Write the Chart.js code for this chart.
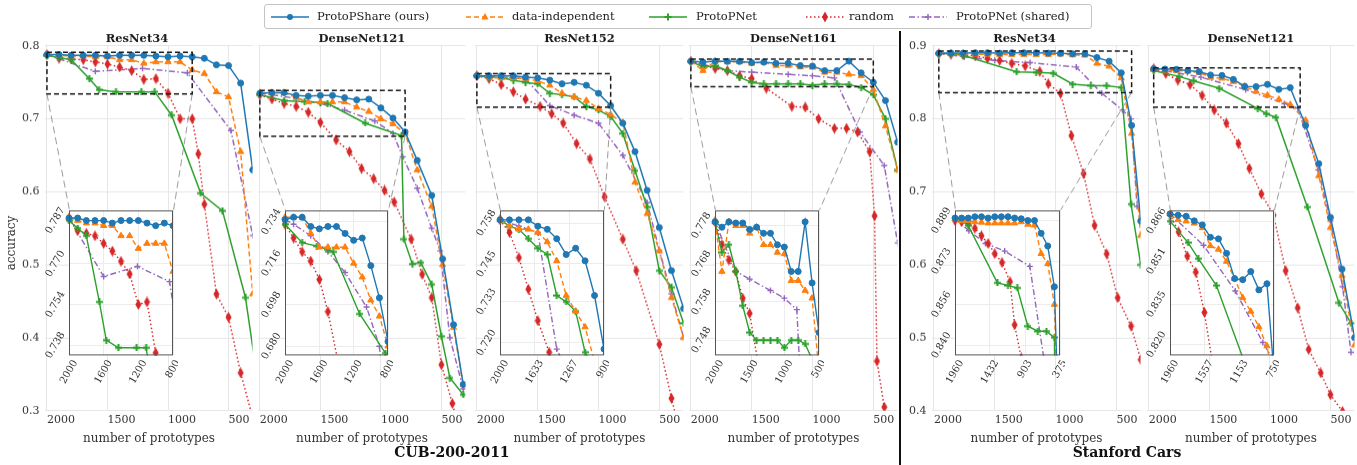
<!DOCTYPE html>
<html>
<head>
<meta charset="utf-8">
<script src="https://cdn.jsdelivr.net/npm/chart.js@4.4.0/dist/chart.umd.min.js"></script>
<style>
  body { margin: 0; background: #fff; }
  #fig { position: relative; width: 1357px; height: 465px; overflow: hidden; background: #fff; font-family: 'DejaVu Serif', serif; }
  #fig canvas { position: absolute; }
  #legend { position: absolute; left: 264px; top: 4px; width: 826px; height: 23px; border: 1px solid #c4c4c4; border-radius: 3px; z-index: 20; background: #fff; }
  #legend svg { position: absolute; top: 6px; }
  #legend span { position: absolute; top: 3px; font-size: 11.5px; color: #222; line-height: 17px; white-space: nowrap; }
  .sep { position: absolute; left: 899px; top: 31px; width: 2px; height: 434px; background: #111; z-index: 20; }
  .grp { position: absolute; top: 443px; width: 300px; text-align: center; font-weight: bold; font-size: 14px; line-height: 18px; color: #111; z-index: 20; }
  .ytitle { position: absolute; left: -39px; top: 235px; width: 100px; text-align: center; font-size: 12px; line-height: 16px; color: #333; transform: rotate(-90deg); z-index: 20; }
</style>
</head>
<body>
<div id="fig">
  <div id="legend">
    <svg style="left:6px" width="38" height="12"><line x1="0" y1="6" x2="38" y2="6" stroke="#1f77b4" stroke-width="1.6"/><circle cx="19" cy="6" r="3" fill="#1f77b4"/></svg>
    <span style="left:52px">ProtoPShare (ours)</span>
    <svg style="left:201px" width="38" height="12"><line x1="0" y1="6" x2="38" y2="6" stroke="#ff7f0e" stroke-width="1.6" stroke-dasharray="5,3"/><polygon points="19,2 22.6,8.6 15.4,8.6" fill="#ff7f0e"/></svg>
    <span style="left:247px">data-independent</span>
    <svg style="left:384px" width="38" height="12"><line x1="0" y1="6" x2="38" y2="6" stroke="#2ca02c" stroke-width="1.6"/><rect x="18" y="2.5" width="2" height="7" fill="#2ca02c"/><rect x="15.5" y="5" width="7" height="2" fill="#2ca02c"/></svg>
    <span style="left:431px">ProtoPNet</span>
    <svg style="left:541px" width="38" height="12"><line x1="0" y1="6" x2="38" y2="6" stroke="#d62728" stroke-width="1.6" stroke-dasharray="1.5,2.5"/><polygon points="19,0.5 22,6 19,11.5 16,6" fill="#d62728"/></svg>
    <span style="left:584px">random</span>
    <svg style="left:644px" width="38" height="12"><line x1="0" y1="6" x2="38" y2="6" stroke="#9467bd" stroke-width="1.4" stroke-dasharray="6,2.5,1.5,2.5"/><line x1="16" y1="6" x2="22" y2="6" stroke="#9467bd" stroke-width="1.5"/><line x1="19" y1="3" x2="19" y2="9" stroke="#9467bd" stroke-width="1.5"/></svg>
    <span style="left:691px">ProtoPNet (shared)</span>
  </div>
  <div class="ytitle">accuracy</div>
  <div class="sep"></div>
  <div class="grp" style="left:302px">CUB-200-2011</div>
  <div class="grp" style="left:977px">Stanford Cars</div>
</div>
<script>
// tick values
const mainXTicks = [500, 1000, 1500, 2000];
const cubYTicks = [0.3, 0.4, 0.5, 0.6, 0.7, 0.8];
const carsYTicks = [0.4, 0.5, 0.6, 0.7, 0.8, 0.9];

// CUB-200-2011 / ResNet34
const cubR34_x = [2000,1900,1800,1700,1600,1500,1400,1300,1200,1100,1000,900,800,700,600,500,400,300];
const cubR34_share = [0.788,0.788,0.787,0.787,0.787,0.786,0.787,0.787,0.787,0.786,0.785,0.786,0.785,0.783,0.774,0.773,0.749,0.63];
const cubR34_dind = [0.788,0.787,0.786,0.786,0.785,0.785,0.781,0.781,0.776,0.778,0.778,0.778,0.767,0.762,0.737,0.730,0.655,0.46];
const cubR34_pnet_x = [2000,1900,1800,1650,1570,1430,1220,1110,970,730,550,360,250];
const cubR34_pnet = [0.787,0.784,0.781,0.755,0.740,0.737,0.737,0.737,0.705,0.598,0.574,0.455,0.33];
const cubR34_rand_x = [2000,1900,1800,1700,1600,1500,1400,1300,1200,1100,1000,900,800,750,700,600,500,400,300];
const cubR34_rand = [0.788,0.783,0.782,0.781,0.778,0.775,0.771,0.766,0.754,0.755,0.735,0.700,0.700,0.652,0.583,0.460,0.428,0.352,0.29];
const cubR34_shrd_x = [2000,1600,1210,840,480,300];
const cubR34_shrd = [0.788,0.765,0.769,0.763,0.684,0.54];
const cubR34_inX = [800, 1200, 1600, 2000];
const cubR34_inY = [0.738, 0.754, 0.770, 0.787];

// CUB-200-2011 / DenseNet121
const cubD121_x = [2000,1900,1800,1700,1600,1500,1400,1300,1200,1100,1000,900,800,700,580,490,400,320];
const cubD121_share = [0.735,0.736,0.736,0.732,0.731,0.732,0.732,0.729,0.726,0.727,0.715,0.701,0.682,0.643,0.595,0.508,0.418,0.336];
const cubD121_dind = [0.736,0.736,0.736,0.729,0.723,0.723,0.723,0.723,0.716,0.710,0.700,0.693,0.680,0.630,0.580,0.500,0.414,0.336];
const cubD121_pnet_x = [2000,1800,1630,1500,1440,1130,830,810,740,670,580,500,430,320];
const cubD121_pnet = [0.733,0.725,0.7235,0.722,0.721,0.694,0.677,0.535,0.501,0.503,0.473,0.402,0.345,0.322];
const cubD121_rand_x = [2000,1900,1800,1700,1600,1500,1370,1260,1160,1060,970,890,750,660,580,500,410,330];
const cubD121_rand = [0.733,0.727,0.721,0.717,0.709,0.695,0.671,0.655,0.632,0.618,0.602,0.586,0.535,0.487,0.455,0.363,0.310,0.26];
const cubD121_shrd_x = [2000,1900,1700,1500,1300,1050,900,820,700,580,510,430,320];
const cubD121_shrd = [0.735,0.733,0.728,0.721,0.712,0.697,0.68,0.648,0.605,0.55,0.519,0.40,0.33];
const cubD121_inX = [800, 1200, 1600, 2000];
const cubD121_inY = [0.680, 0.698, 0.716, 0.734];

// CUB-200-2011 / ResNet152
const cubR152_x = [2000,1900,1800,1700,1600,1500,1400,1300,1200,1100,1000,900,800,700,600,500,400,300];
const cubR152_share = [0.759,0.759,0.759,0.759,0.757,0.756,0.753,0.748,0.750,0.746,0.735,0.718,0.694,0.655,0.602,0.551,0.492,0.44];
const cubR152_dind = [0.759,0.757,0.756,0.756,0.755,0.752,0.746,0.735,0.730,0.725,0.714,0.706,0.695,0.613,0.570,0.519,0.455,0.40];
const cubR152_pnet = [0.759,0.757,0.756,0.753,0.750,0.748,0.735,0.733,0.730,0.717,0.712,0.703,0.680,0.629,0.579,0.492,0.469,0.42];
const cubR152_rand_x = [2000,1900,1800,1700,1600,1480,1385,1290,1180,1070,950,800,690,500,400,330];
const cubR152_rand = [0.759,0.755,0.747,0.737,0.727,0.717,0.707,0.694,0.666,0.645,0.593,0.535,0.492,0.391,0.317,0.27];
const cubR152_shrd_x = [2000,1800,1600,1400,1200,1000,800,600,500,400,300];
const cubR152_shrd = [0.759,0.757,0.755,0.718,0.705,0.694,0.65,0.585,0.52,0.46,0.40];
const cubR152_inX = [900, 1267, 1633, 2000];
const cubR152_inY = [0.720, 0.733, 0.745, 0.758];

// CUB-200-2011 / DenseNet161
const cubD161_x = [2000,1900,1800,1700,1600,1500,1400,1300,1200,1100,1000,900,800,700,600,500,400,300];
const cubD161_share = [0.779,0.7776,0.779,0.7787,0.7787,0.777,0.7776,0.776,0.776,0.773,0.7724,0.766,0.766,0.779,0.763,0.750,0.725,0.668];
const cubD161_dind = [0.779,0.766,0.779,0.778,0.778,0.776,0.7776,0.773,0.773,0.771,0.7706,0.7636,0.7636,0.761,0.759,0.740,0.69,0.63];
const cubD161_pnet = [0.779,0.771,0.773,0.766,0.757,0.750,0.748,0.748,0.748,0.748,0.746,0.748,0.748,0.747,0.743,0.733,0.700,0.63];
const cubD161_rand_x = [2000,1900,1800,1700,1600,1500,1380,1170,1060,950,820,720,630,530,490,470,410,380];
const cubD161_rand = [0.779,0.773,0.769,0.766,0.759,0.755,0.742,0.717,0.716,0.700,0.687,0.687,0.682,0.655,0.567,0.368,0.305,0.27];
const cubD161_shrd_x = [2000,1700,1500,1200,1000,820,610,410,300];
const cubD161_shrd = [0.779,0.766,0.764,0.761,0.759,0.756,0.682,0.636,0.53];
const cubD161_inX = [500, 1000, 1500, 2000];
const cubD161_inY = [0.748, 0.758, 0.768, 0.778];

// Stanford Cars / ResNet34
const carsR34_x = [1960,1860,1760,1660,1560,1460,1360,1260,1160,1060,960,860,760,660,560,460,375,300];
const carsR34_share = [0.890,0.890,0.890,0.8905,0.8905,0.890,0.8905,0.8905,0.8905,0.890,0.8897,0.889,0.889,0.884,0.879,0.863,0.791,0.66];
const carsR34_dind = [0.8897,0.889,0.889,0.8885,0.8883,0.888,0.888,0.888,0.888,0.888,0.8885,0.8875,0.8872,0.876,0.872,0.856,0.78,0.64];
const carsR34_pnet_x = [1960,1860,1760,1320,1160,1020,860,710,580,460,380,300];
const carsR34_pnet = [0.8897,0.889,0.887,0.8645,0.8635,0.8625,0.8475,0.8455,0.8455,0.843,0.683,0.60];
const carsR34_rand_x = [1960,1860,1760,1660,1560,1460,1360,1250,1130,1060,960,870,770,680,580,490,380,300];
const carsR34_rand = [0.889,0.8885,0.888,0.886,0.883,0.880,0.876,0.8725,0.865,0.848,0.835,0.777,0.725,0.654,0.615,0.555,0.516,0.47];
const carsR34_shrd_x = [1960,1750,1500,1210,830,620,450,380,330];
const carsR34_shrd = [0.8897,0.885,0.880,0.877,0.871,0.835,0.812,0.80,0.68];
const carsR34_inX = [375, 903, 1432, 1960];
const carsR34_inY = [0.840, 0.856, 0.873, 0.889];

// Stanford Cars / DenseNet121
const carsD121_x = [1960,1866,1772,1678,1584,1490,1396,1302,1208,1114,1020,926,832,705,596,500,404,300];
const carsD121_share = [0.8687,0.8682,0.8678,0.8661,0.8646,0.860,0.8594,0.854,0.8446,0.8442,0.8472,0.8404,0.8427,0.791,0.7385,0.665,0.594,0.50];
const carsD121_dind = [0.8687,0.8665,0.866,0.8652,0.8635,0.8568,0.8555,0.851,0.8446,0.8375,0.8324,0.8266,0.8195,0.798,0.722,0.651,0.585,0.49];
const carsD121_pnet_x = [1960,1750,1630,1420,1100,1030,950,690,430,330];
const carsD121_pnet = [0.866,0.858,0.852,0.842,0.814,0.807,0.802,0.679,0.548,0.52];
const carsD121_rand_x = [1960,1860,1760,1660,1560,1460,1360,1260,1170,1070,970,870,770,680,580,500,400];
const carsD121_rand = [0.8687,0.862,0.853,0.847,0.832,0.812,0.794,0.766,0.732,0.697,0.668,0.592,0.541,0.484,0.452,0.422,0.399];
const carsD121_shrd_x = [1960,1570,1200,880,770,600,500,400,330];
const carsD121_shrd = [0.8687,0.857,0.840,0.8208,0.815,0.73,0.66,0.57,0.48];
const carsD121_inX = [750, 1153, 1557, 1960];
const carsD121_inY = [0.820, 0.835, 0.851, 0.866];

// ---- look ----
const FONT = "'DejaVu Serif', serif";
const TXT = '#333';
const GRID = '#e6e6e6';
const COLORS = ['#1f77b4', '#ff7f0e', '#2ca02c', '#d62728', '#9467bd'];
const DASHES = [[], [5, 3], [], [1.5, 2.5], [6, 2.5, 1.5, 2.5]];

function mk(w, h, draw) {
  const c = document.createElement('canvas');
  c.width = w; c.height = h;
  draw(c.getContext('2d'));
  return c;
}
const plusMark = mk(7, 7, g => { g.fillStyle = COLORS[2]; g.fillRect(2.5, 0, 2, 7); g.fillRect(0, 2.5, 7, 2); });
const diaMark = mk(7, 11, g => {
  g.fillStyle = COLORS[3];
  g.beginPath(); g.moveTo(3.5, 0); g.lineTo(6.5, 5.5); g.lineTo(3.5, 11); g.lineTo(0.5, 5.5); g.closePath(); g.fill();
});
const STYLES = ['circle', 'triangle', plusMark, diaMark, 'cross'];
const RADII = [3, 3.6, 3, 3, 3];

const panels = [
  { title: 'ResNet34', box: [45, 46, 252, 410], yRange: [0.3, 0.8], yTicks: cubYTicks, yLabels: true,
    series: [[cubR34_x, cubR34_share], [cubR34_x, cubR34_dind], [cubR34_pnet_x, cubR34_pnet], [cubR34_rand_x, cubR34_rand], [cubR34_shrd_x, cubR34_shrd]],
    inset: { box: [69, 210, 173, 355], x: [800, 2000], y: [0.734, 0.791], xTicks: cubR34_inX, yTicks: cubR34_inY } },
  { title: 'DenseNet121', box: [258, 46, 465, 410], yRange: [0.3, 0.8], yTicks: cubYTicks, yLabels: false,
    series: [[cubD121_x, cubD121_share], [cubD121_x, cubD121_dind], [cubD121_pnet_x, cubD121_pnet], [cubD121_rand_x, cubD121_rand], [cubD121_shrd_x, cubD121_shrd]],
    inset: { box: [285, 210, 388, 355], x: [800, 2000], y: [0.676, 0.739], xTicks: cubD121_inX, yTicks: cubD121_inY } },
  { title: 'ResNet152', box: [475, 46, 683, 410], yRange: [0.3, 0.8], yTicks: cubYTicks, yLabels: false,
    series: [[cubR152_x, cubR152_share], [cubR152_x, cubR152_dind], [cubR152_x, cubR152_pnet], [cubR152_rand_x, cubR152_rand], [cubR152_shrd_x, cubR152_shrd]],
    inset: { box: [500, 210, 604, 355], x: [900, 2000], y: [0.716, 0.762], xTicks: cubR152_inX, yTicks: cubR152_inY } },
  { title: 'DenseNet161', box: [689, 46, 897, 410], yRange: [0.3, 0.8], yTicks: cubYTicks, yLabels: false,
    series: [[cubD161_x, cubD161_share], [cubD161_x, cubD161_dind], [cubD161_x, cubD161_pnet], [cubD161_rand_x, cubD161_rand], [cubD161_shrd_x, cubD161_shrd]],
    inset: { box: [715, 210, 819, 355], x: [500, 2000], y: [0.744, 0.782], xTicks: cubD161_inX, yTicks: cubD161_inY } },
  { title: 'ResNet34', box: [932, 46, 1140, 410], yRange: [0.4, 0.9], yTicks: carsYTicks, yLabels: true,
    series: [[carsR34_x, carsR34_share], [carsR34_x, carsR34_dind], [carsR34_pnet_x, carsR34_pnet], [carsR34_rand_x, carsR34_rand], [carsR34_shrd_x, carsR34_shrd]],
    inset: { box: [955, 210, 1060, 355], x: [375, 1960], y: [0.836, 0.893], xTicks: carsR34_inX, yTicks: carsR34_inY } },
  { title: 'DenseNet121', box: [1147, 46, 1354, 410], yRange: [0.4, 0.9], yTicks: carsYTicks, yLabels: false,
    series: [[carsD121_x, carsD121_share], [carsD121_x, carsD121_dind], [carsD121_pnet_x, carsD121_pnet], [carsD121_rand_x, carsD121_rand], [carsD121_shrd_x, carsD121_shrd]],
    inset: { box: [1170, 210, 1274, 355], x: [750, 1960], y: [0.816, 0.870], xTicks: carsD121_inX, yTicks: carsD121_inY } }
];

function makeDatasets(p, inset) {
  return p.series.map((s, i) => ({
    data: s[0].map((x, j) => ({ x: x, y: s[1][j] })),
    borderColor: COLORS[i],
    backgroundColor: COLORS[i],
    borderWidth: inset ? 1.4 : 1.5,
    borderDash: DASHES[i],
    pointStyle: STYLES[i],
    pointRadius: RADII[i],
    pointBorderWidth: i === 4 ? 1.4 : 1,
    pointBackgroundColor: COLORS[i],
    pointBorderColor: COLORS[i],
    tension: 0,
    fill: false,
    clip: inset ? { left: 4, top: 0, right: 0, bottom: 0 } : { left: 5, top: 5, right: 0, bottom: 0 }
  }));
}

function addCanvas(w, h, z) {
  const c = document.createElement('canvas');
  c.width = w; c.height = h;
  c.style.zIndex = z;
  document.getElementById('fig').appendChild(c);
  return c;
}

// move/resize the canvas so the chart area lands on box = [left, top, right, bottom]
function place(chart, box) {
  let a = chart.chartArea;
  const w = chart.width + (box[2] - box[0]) - (a.right - a.left);
  const h = chart.height + (box[3] - box[1]) - (a.bottom - a.top);
  chart.resize(w, h);
  a = chart.chartArea;
  chart.canvas.style.left = (box[0] - a.left) + 'px';
  chart.canvas.style.top = (box[1] - a.top) + 'px';
}

// dashed zoom box + connector lines to the inset
function zoomMark(p) {
  return {
    id: 'zoomMark',
    afterDatasetsDraw(chart) {
      const ctx = chart.ctx, a = chart.chartArea, xs = chart.scales.x, ys = chart.scales.y;
      const ins = p.inset;
      const x0 = xs.getPixelForValue(ins.x[1]), x1 = xs.getPixelForValue(ins.x[0]);
      const y0 = ys.getPixelForValue(ins.y[1]), y1 = ys.getPixelForValue(ins.y[0]);
      const dx = p.box[0] - a.left, dy = p.box[1] - a.top;
      ctx.save();
      ctx.strokeStyle = '#9a9a9a'; ctx.lineWidth = 1; ctx.setLineDash([7, 4]);
      ctx.beginPath();
      ctx.moveTo(x0, y1); ctx.lineTo(ins.box[0] - dx, ins.box[1] - dy);
      ctx.moveTo(x1, y1); ctx.lineTo(ins.box[2] - dx, ins.box[1] - dy);
      ctx.stroke();
      ctx.strokeStyle = '#1a1a1a'; ctx.lineWidth = 1.5; ctx.setLineDash([5, 3]);
      ctx.strokeRect(x0, y0, x1 - x0, y1 - y0);
      ctx.restore();
    }
  };
}

// white inset background, frame and rotated tick labels
function insetDeco(p) {
  return {
    id: 'insetDeco',
    beforeDraw(chart) {
      const a = chart.chartArea, ctx = chart.ctx;
      ctx.save(); ctx.fillStyle = '#fff';
      ctx.fillRect(a.left, a.top, a.right - a.left, a.bottom - a.top);
      ctx.restore();
    },
    afterDraw(chart) {
      const a = chart.chartArea, ctx = chart.ctx, sc = chart.scales;
      const sn = Math.sin(Math.PI / 3), cs = Math.cos(Math.PI / 3), fh = 10;
      ctx.save();
      ctx.strokeStyle = '#555'; ctx.lineWidth = 1;
      ctx.strokeRect(a.left + 0.5, a.top + 0.5, a.right - a.left - 1, a.bottom - a.top - 1);
      ctx.font = '10px ' + FONT; ctx.fillStyle = TXT; ctx.textAlign = 'center'; ctx.textBaseline = 'middle';
      const put = (t, x, y) => { ctx.save(); ctx.translate(x, y); ctx.rotate(-Math.PI / 3); ctx.fillText(t, 0, 0); ctx.restore(); };
      p.inset.yTicks.forEach(v => {
        const t = v.toFixed(3), w = ctx.measureText(t).width;
        put(t, a.left - 2 - (w * cs + fh * sn) / 2, sc.y.getPixelForValue(v));
      });
      p.inset.xTicks.forEach(v => {
        const t = String(v), w = ctx.measureText(t).width;
        put(t, sc.x.getPixelForValue(v), a.bottom + 3 + (w * sn + fh * cs) / 2);
      });
      ctx.restore();
    }
  };
}

panels.forEach(p => {
  const [L, T, R, B] = p.box;
  const main = new Chart(addCanvas(R - L + 60, B - T + 80, 1), {
    type: 'line',
    data: { datasets: makeDatasets(p, false) },
    options: {
      responsive: false, maintainAspectRatio: false, animation: false, events: [], devicePixelRatio: 1,
      layout: { padding: 0 },
      plugins: {
        legend: { display: false },
        tooltip: { enabled: false },
        title: { display: true, text: p.title, color: '#1a1a1a', font: { family: FONT, size: 11.5, weight: 'bold' }, padding: { top: 2, bottom: 0 } }
      },
      scales: {
        x: {
          type: 'linear', reverse: true, min: 302, max: 2012,
          afterBuildTicks: s => { s.ticks = mainXTicks.map(v => ({ value: v })); },
          ticks: { align: 'start', maxRotation: 0, autoSkip: false, padding: 3, color: TXT, font: { family: FONT, size: 11 }, callback: v => String(v) },
          grid: { color: GRID, drawTicks: false },
          border: { display: false },
          title: { display: true, text: 'number of prototypes', color: TXT, font: { family: FONT, size: 12 }, padding: { top: 2, bottom: 0 } }
        },
        y: {
          type: 'linear', min: p.yRange[0], max: p.yRange[1],
          afterBuildTicks: s => { s.ticks = p.yTicks.map(v => ({ value: v })); },
          ticks: { display: p.yLabels, padding: 6, color: TXT, font: { family: FONT, size: 11 }, callback: v => v.toFixed(1) },
          grid: { color: GRID, drawTicks: false },
          border: { display: false }
        }
      }
    },
    plugins: [zoomMark(p)]
  });
  place(main, p.box);

  const ib = p.inset.box;
  const inset = new Chart(addCanvas(ib[2] - ib[0] + 50, ib[3] - ib[1] + 45, 5), {
    type: 'line',
    data: { datasets: makeDatasets(p, true) },
    options: {
      responsive: false, maintainAspectRatio: false, animation: false, events: [], devicePixelRatio: 1,
      layout: { padding: { left: 44, bottom: 40, top: 2, right: 3 } },
      plugins: { legend: { display: false }, tooltip: { enabled: false } },
      scales: {
        x: {
          type: 'linear', reverse: true, min: p.inset.x[0], max: p.inset.x[1],
          afterBuildTicks: s => { s.ticks = p.inset.xTicks.map(v => ({ value: v })); },
          ticks: { display: false },
          grid: { color: '#ececec', drawTicks: false },
          border: { display: false }
        },
        y: {
          type: 'linear', min: p.inset.y[0], max: p.inset.y[1],
          afterBuildTicks: s => { s.ticks = p.inset.yTicks.map(v => ({ value: v })); },
          ticks: { display: false },
          grid: { color: '#ececec', drawTicks: false },
          border: { display: false }
        }
      }
    },
    plugins: [insetDeco(p)]
  });
  place(inset, ib);
});
</script>
</body>
</html>
